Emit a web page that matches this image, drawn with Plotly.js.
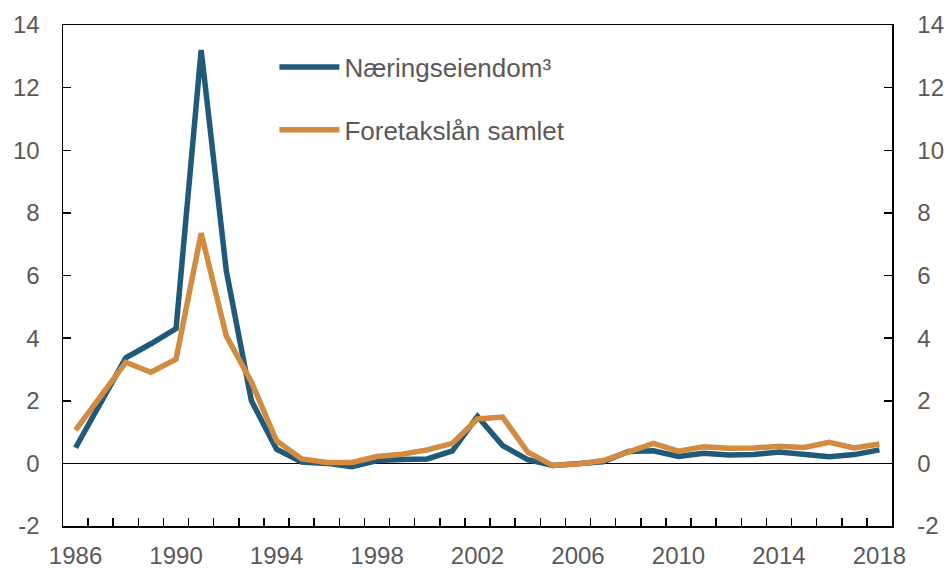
<!DOCTYPE html>
<html>
<head>
<meta charset="utf-8">
<script src="https://cdn.plot.ly/plotly-3.0.1.min.js"></script>
<style>html,body{margin:0;padding:0;background:#fff;}#chart{width:947px;height:568px;}</style>
</head>
<body>
<div id="chart"></div>
<script>
var years = [1986,1987,1988,1989,1990,1991,1992,1993,1994,1995,1996,1997,1998,1999,2000,2001,2002,2003,2004,2005,2006,2007,2008,2009,2010,2011,2012,2013,2014,2015,2016,2017,2018];
var naeringseiendom = [0.5,1.95,3.37,3.82,4.3,13.2,6.15,2.0,0.45,0.04,0.0,-0.11,0.09,0.12,0.14,0.4,1.5,0.57,0.12,-0.07,-0.03,0.05,0.38,0.4,0.22,0.32,0.27,0.28,0.36,0.27,0.21,0.28,0.43];
var foretakslan = [1.06,2.15,3.23,2.91,3.33,7.35,4.07,2.6,0.72,0.14,0.03,0.03,0.22,0.29,0.43,0.64,1.42,1.48,0.36,-0.07,-0.02,0.09,0.36,0.64,0.39,0.53,0.48,0.49,0.55,0.51,0.67,0.49,0.62];
var seriesNames = ["Næringseiendom³","Foretakslån samlet"];
var xTickVals = [1986,1990,1994,1998,2002,2006,2010,2014,2018];
var yTickVals = [-2,0,2,4,6,8,10,12,14];

var blue = "#215a79";
var orange = "#d18c42";
var grey = "#595959";
var fontFam = "Liberation Sans, Arial, sans-serif";

var traces = [
  {x: years, y: naeringseiendom, name: seriesNames[0], type: "scatter", mode: "lines",
   line: {color: blue, width: 5.5}, legendgroup: "a", hoverinfo: "skip"},
  {x: years, y: foretakslan, name: seriesNames[1], type: "scatter", mode: "lines",
   line: {color: orange, width: 5.5}, legendgroup: "b", hoverinfo: "skip"},
  {x: [years[0]], y: [null], yaxis: "y2", showlegend: false, hoverinfo: "skip", type: "scatter", mode: "lines"}
];

var yCommon = {
  range: [-2, 14], tickvals: yTickVals, ticktext: yTickVals.map(String),
  ticks: "inside", ticklen: 8, tickwidth: 1.5, tickcolor: "#000",
  showline: true, linecolor: "#000", linewidth: 1.5, showgrid: false,
  tickfont: {family: fontFam, size: 24, color: grey},
  fixedrange: true
};

var layout = {
  width: 947, height: 568,
  margin: {l: 63, r: 55, t: 25, b: 42, pad: 0},
  paper_bgcolor: "#fff", plot_bgcolor: "#fff",
  showlegend: true,
  legend: {x: 0.255, y: 0.963, xanchor: "left", yanchor: "top",
           font: {family: fontFam, size: 26, color: grey},
           bgcolor: "rgba(0,0,0,0)", itemwidth: 60, tracegroupgap: 26,
           traceorder: "grouped"},
  xaxis: {
    range: [1985.5, 2018.5], tickmode: "array", tickvals: xTickVals, ticktext: xTickVals.map(String),
    ticks: "inside", ticklen: 0, showline: true, linecolor: "#000", linewidth: 1.5,
    mirror: true, showgrid: false, zeroline: false,
    tickfont: {family: fontFam, size: 24, color: grey}, ticklabelstandoff: 8,
    minor: {tickmode: "linear", tick0: 1985.5, dtick: 1, ticks: "inside", ticklen: 8, tickwidth: 1.5, tickcolor: "#000", showgrid: false},
    fixedrange: true
  },
  yaxis: Object.assign({}, yCommon, {side: "left", ticklabelstandoff: 17, zeroline: true, zerolinecolor: "#000", zerolinewidth: 1.2}),
  yaxis2: Object.assign({}, yCommon, {side: "right", ticklabelstandoff: 19, overlaying: "y", zeroline: false})
};

Plotly.newPlot("chart", traces, layout, {displayModeBar: false, staticPlot: true});
</script>
</body>
</html>
